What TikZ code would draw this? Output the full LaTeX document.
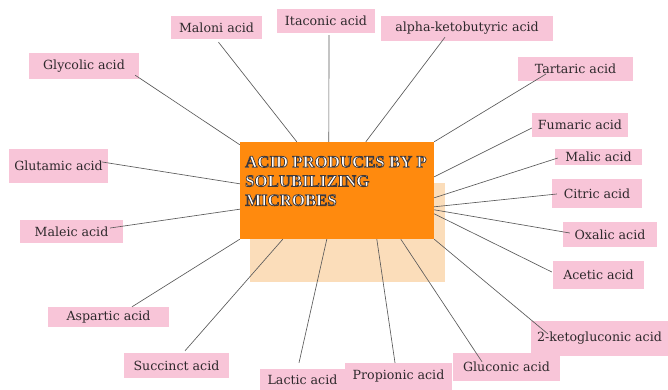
\documentclass[tikz,border=0pt]{standalone}
\usepackage{fontspec}
\setmainfont{DejaVu Serif}
\newfontfamily\titlefont{Liberation Serif}
\newcommand{\outlineon}{\special{pdf:literal direct 2 Tr 0.75 w 0.25 0.22 0.22 RG 1 1 1 rg}}
\newcommand{\outlineoff}{\special{pdf:literal direct 0 Tr}}
\definecolor{pinkbox}{HTML}{F8C5D8}
\definecolor{orangebox}{HTML}{FF8A0E}
\definecolor{peachbox}{HTML}{FBDDBA}
\definecolor{labeltext}{HTML}{2E292C}
\definecolor{linkgray}{HTML}{5A5A5A}
\begin{document}
\begin{tikzpicture}[x=1pt,y=-1pt,
  lbl/.style={fill=pinkbox, draw=none, text=labeltext, inner sep=0pt,
    font=\fontsize{12.6}{14}\selectfont},
  link/.style={draw=linkgray, line width=0.65pt},
  core/.style={fill=orangebox, draw=none, inner sep=0pt},
  shade/.style={fill=peachbox, draw=none, inner sep=0pt}]
\useasboundingbox (0,0) rectangle (668,390);
\fill[white] (0,0) rectangle (668,390);

% central boxes
\node[shade, minimum width=195, minimum height=99] (sh) at (347.5,232) {};
\node[core, minimum width=194, minimum height=97] (c) at (337,190.5) {};
\node[anchor=north west, inner sep=0pt, align=left, text=white,
  font=\titlefont\bfseries\fontsize{16.8}{19.2}\selectfont] (title) at (245,156)
  {\outlineon ACID PRODUCES BY P\\SOLUBILIZING\\MICROBES\outlineoff};

% labels
\node[lbl, minimum width=110, minimum height=26] (gly) at (84,66) {Glycolic acid};
\node[lbl, minimum width=91, minimum height=23] (mal) at (216.5,27.5) {Maloni acid};
\node[lbl, minimum width=98, minimum height=24] (ita) at (326,21) {Itaconic acid};
\node[lbl, minimum width=172, minimum height=25] (ak) at (467,28.5) {alpha-ketobutyric acid};
\node[lbl, minimum width=115, minimum height=24] (tar) at (575.5,69) {Tartaric acid};
\node[lbl, minimum width=96, minimum height=24] (fum) at (580,125) {Fumaric acid};
\node[lbl, minimum width=87, minimum height=16] (mlc) at (598.5,157) {Malic acid};
\node[lbl, minimum width=90, minimum height=29] (cit) at (597,193.5) {Citric acid};
\node[lbl, minimum width=94, minimum height=25] (oxa) at (610,234.5) {Oxalic acid};
\node[lbl, minimum width=91, minimum height=28] (ace) at (598.5,275) {Acetic acid};
\node[lbl, minimum width=137, minimum height=35] (kg) at (599.5,338.5) {2-ketogluconic acid};
\node[lbl, minimum width=107, minimum height=28] (glc) at (506.5,367) {Gluconic acid};
\node[lbl, minimum width=107, minimum height=27] (pro) at (398.5,376.5) {Propionic acid};
\node[lbl, minimum width=85, minimum height=21] (lac) at (302.5,379.5) {Lactic acid};
\node[lbl, minimum width=105, minimum height=25] (suc) at (176.5,365.5) {Succinct acid};
\node[lbl, minimum width=121, minimum height=20] (asp) at (108.5,317) {Aspartic acid};
\node[lbl, minimum width=103, minimum height=23] (mle) at (71.5,231.5) {Maleic acid};
\node[lbl, minimum width=99, minimum height=34] (glu) at (58.5,166) {Glutamic acid};

% connectors
\draw[link] ([shift={(-4,-4)}]gly.south east) -- ([shift={(0,3)}]c.north west);
\draw[link] ([shift={(2,3)}]mal.south) -- ([shift={(57,0)}]c.north west);
\draw[link] ([shift={(3,2)}]ita.south) -- ([shift={(89,0)}]c.north west);
\draw[link] ([shift={(-22,-4)}]ak.south) -- ([shift={(126,0)}]c.north west);
\draw[link] ([shift={(-29.5,5)}]tar.center) -- (c.north east);
\draw[link] ([shift={(0,3)}]fum.west) -- ([shift={(0,35)}]c.north east);
\draw[link] ([shift={(3,1)}]mlc.west) -- ([shift={(0,56)}]c.north east);
\draw[link] ([shift={(5,0.5)}]cit.west) -- ([shift={(0,65)}]c.north east);
\draw[link] ([shift={(7,-1.5)}]oxa.west) -- ([shift={(0,68)}]c.north east);
\draw[link] ([shift={(-1,-3)}]ace.west) -- ([shift={(0,72)}]c.north east);
\draw[link] ([shift={(-51.5,-4.5)}]kg.center) -- (c.south east);
\draw[link] ([shift={(-24.5,9)}]glc.north) -- ([shift={(161,0)}]c.south west);
\draw[link] ([shift={(-3.5,0)}]pro.north) -- ([shift={(137,0)}]c.south west);
\draw[link] ([shift={(-3.5,-6)}]lac.north) -- ([shift={(87,0)}]c.south west);
\draw[link] ([shift={(8.5,-2)}]suc.north) -- ([shift={(43,0)}]c.south west);
\draw[link] ([shift={(23.5,0)}]asp.north) -- (c.south west);
\draw[link] ([shift={(-13,-3.5)}]mle.east) -- ([shift={(0,-30)}]c.south west);
\draw[link] ([shift={(-6,-4)}]glu.east) -- ([shift={(0,42)}]c.north west);
\end{tikzpicture}
\end{document}
